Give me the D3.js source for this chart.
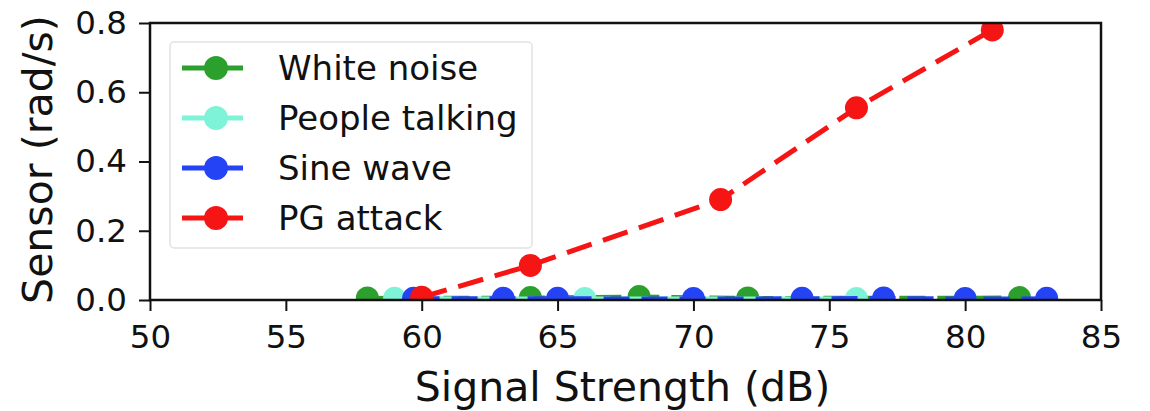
<!DOCTYPE html>
<html>
<head>
<meta charset="utf-8">
<script src="https://cdn.jsdelivr.net/npm/d3@7"></script>
<style>
  body { margin: 0; background: #fff; }
  text { font-family: "DejaVu Sans", sans-serif; fill: #111; }
</style>
</head>
<body>
<svg id="chart" width="1150" height="411"></svg>
<script>
const svg = d3.select('#chart');
const width = +svg.attr('width');
const height = +svg.attr('height');
const margin = {top: 23, right: 49, bottom: 111, left: 150};
const innerWidth = width - margin.left - margin.right;
const innerHeight = height - margin.top - margin.bottom;

// values
const seriesNames = ['White noise', 'People talking', 'Sine wave', 'PG attack'];
const seriesColors = ['#2ca02c', '#7ff3d8', '#2443f5', '#f51515'];
const noiseX = [58, 64, 68, 72, 82];
const noiseY = [0.006, 0.007, 0.01, 0.006, 0.007];
const talkX = [59, 66, 76];
const talkY = [0.005, 0.004, 0.004];
const sineX = [59.7, 63, 65, 70, 74, 77, 80, 83];
const sineY = [0.005, 0.005, 0.005, 0.004, 0.005, 0.006, 0.004, 0.005];
const pgX = [60, 64, 71, 76, 81];
const pgY = [0.008, 0.10, 0.29, 0.555, 0.78];
const xTicks = [50, 55, 60, 65, 70, 75, 80, 85];
const yTicks = [0, 0.2, 0.4, 0.6, 0.8];

const series = [
  {xs: noiseX, ys: noiseY},
  {xs: talkX, ys: talkY},
  {xs: sineX, ys: sineY},
  {xs: pgX, ys: pgY}
].map((s, i) => ({
  name: seriesNames[i],
  color: seriesColors[i],
  points: s.xs.map((x, j) => ({x: x, y: s.ys[j]}))
}));

const xScale = d3.scaleLinear().domain([50, 85]).range([0, innerWidth]);
const yScale = d3.scaleLinear().domain([0, 0.8]).range([innerHeight, 0]);

const g = svg.append('g')
    .attr('transform', `translate(${margin.left}, ${margin.top})`);

svg.append('defs').append('clipPath').attr('id', 'plotclip')
  .append('rect').attr('width', innerWidth).attr('height', innerHeight);

const plot = g.append('g').attr('clip-path', 'url(#plotclip)');

const line = d3.line().x(d => xScale(d.x)).y(d => yScale(d.y));

series.forEach((s, i) => {
  const isPG = i === 3;
  plot.append('path')
    .datum(s.points)
    .attr('d', line)
    .attr('fill', 'none')
    .attr('stroke', s.color)
    .attr('stroke-width', isPG ? 5 : 4)
    .attr('stroke-dasharray', '26,12');
  plot.selectAll(null)
    .data(s.points)
    .enter().append('circle')
      .attr('cx', d => xScale(d.x))
      .attr('cy', d => yScale(d.y))
      .attr('r', 11.5)
      .attr('fill', s.color);
});

// axes
const xAxisG = g.append('g')
    .attr('transform', `translate(0, ${innerHeight})`)
    .call(d3.axisBottom(xScale).tickValues(xTicks).tickSize(11).tickPadding(14));
const yAxisG = g.append('g')
    .call(d3.axisLeft(yScale).tickValues(yTicks).tickSize(11).tickPadding(12)
      .tickFormat(d3.format('.1f')));

[xAxisG, yAxisG].forEach(ax => {
  ax.select('.domain').remove();
  ax.selectAll('line').attr('stroke', '#111').attr('stroke-width', 2);
  ax.selectAll('text').style('font-size', '32.5px').attr('fill', '#111');
});
xAxisG.selectAll('text').attr('dy', '0.71em');

// frame
g.append('rect')
  .attr('width', innerWidth)
  .attr('height', innerHeight)
  .attr('fill', 'none')
  .attr('stroke', '#111')
  .attr('stroke-width', 2.5);

// axis labels
svg.append('text')
  .attr('x', margin.left + innerWidth / 2 - 3)
  .attr('y', 401)
  .attr('text-anchor', 'middle')
  .style('font-size', '41px')
  .text('Signal Strength (dB)');

svg.append('text')
  .attr('transform', `translate(52, ${margin.top + innerHeight / 2 - 2}) rotate(-90)`)
  .attr('text-anchor', 'middle')
  .style('font-size', '41px')
  .text('Sensor (rad/s)');

// legend
const legend = svg.append('g').attr('transform', 'translate(170, 42)');
legend.append('rect')
  .attr('width', 362)
  .attr('height', 206)
  .attr('rx', 4)
  .attr('fill', '#fff')
  .attr('fill-opacity', 0.85)
  .attr('stroke', '#e2e2e2')
  .attr('stroke-width', 1.5);

series.forEach((s, i) => {
  const row = legend.append('g').attr('transform', `translate(0, ${26 + i * 50})`);
  row.append('line')
    .attr('x1', 12).attr('x2', 73)
    .attr('stroke', s.color)
    .attr('stroke-width', 5);
  row.append('circle')
    .attr('cx', 46)
    .attr('r', 12)
    .attr('fill', s.color);
  row.append('text')
    .attr('x', 108)
    .attr('dy', '0.35em')
    .style('font-size', '34px')
    .text(s.name);
});
</script>
</body>
</html>
